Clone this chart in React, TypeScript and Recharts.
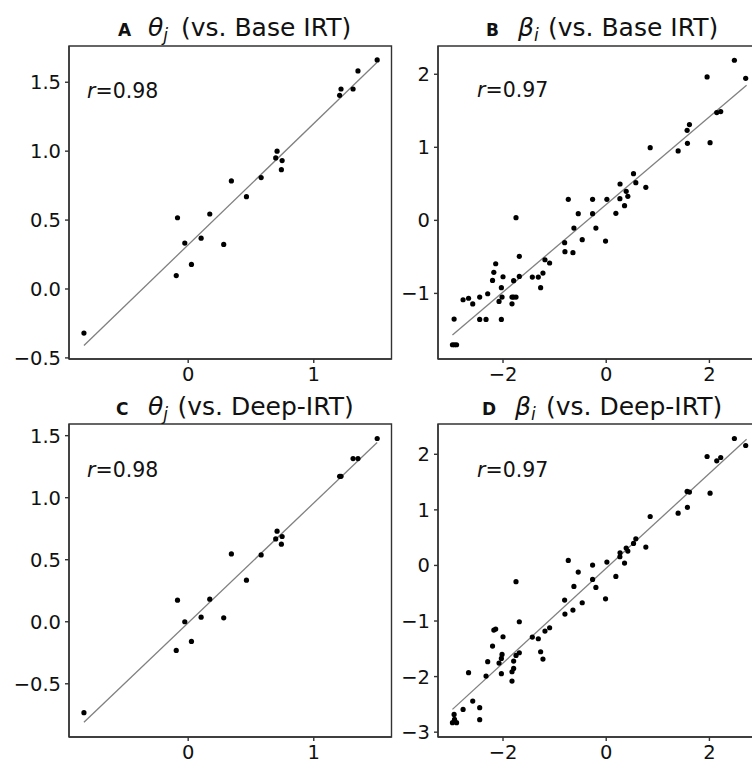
import { ScatterChart, Scatter, XAxis, YAxis, ReferenceLine, ReferenceArea } from 'recharts';

// ability estimates (theta): true values shared by panels A and C
const thetaTrue = [-0.83, -0.095, -0.085, -0.027, 0.026, 0.103, 0.172, 0.283, 0.344, 0.464, 0.581, 0.697, 0.708, 0.748, 0.742, 1.206, 1.217, 1.313, 1.352, 1.505];
const thetaBase = [-0.32, 0.097, 0.517, 0.333, 0.178, 0.369, 0.544, 0.323, 0.784, 0.67, 0.808, 0.951, 1.0, 0.932, 0.866, 1.405, 1.451, 1.451, 1.582, 1.662];
const thetaDeep = [-0.733, -0.231, 0.174, 0.0, -0.159, 0.037, 0.182, 0.032, 0.547, 0.335, 0.539, 0.668, 0.73, 0.687, 0.625, 1.172, 1.172, 1.315, 1.315, 1.477];

// item difficulty (beta): true values shared by panels B and D
const betaTrue = [
  -2.98, -2.94, -2.9, -2.948, -2.774, -2.668, -2.587, -2.452, -2.452, -2.329,
  -2.297, -2.203, -2.178, -2.142, -2.077, -2.032, -2.032, -2.019, -2.0, -1.826,
  -1.826, -1.794, -1.748, -1.794, -1.748, -1.684, -1.684, -1.432, -1.316, -1.271,
  -1.226, -1.187, -1.097, -0.806, -0.8, -0.735, -0.645, -0.626, -0.542, -0.465,
  -0.264, -0.264, -0.2, -0.013, 0.013, 0.187, 0.268, 0.265, 0.355, 0.387,
  0.419, 0.529, 0.574, 0.768, 0.852, 1.394, 1.568, 1.613, 1.574, 2.013,
  1.955, 2.142, 2.219, 2.484, 2.703,
];
const betaBase = [
  -1.703, -1.703, -1.703, -1.352, -1.087, -1.066, -1.144, -1.05, -1.356, -1.356,
  -1.005, -0.822, -0.712, -0.594, -1.11, -1.356, -0.922, -1.05, -0.772, -1.142,
  -1.05, -1.05, -1.05, -0.826, 0.037, -0.767, -0.493, -0.776, -0.776, -0.922,
  -0.721, -0.539, -0.584, -0.306, -0.429, 0.288, -0.443, -0.105, 0.091, -0.265,
  0.288, 0.091, -0.105, -0.283, 0.288, 0.096, 0.498, 0.297, 0.201, 0.397,
  0.329, 0.639, 0.516, 0.452, 0.995, 0.95, 1.233, 1.311, 1.055, 1.064,
  1.963, 1.475, 1.489, 2.192, 1.945,
];
const betaDeep = [
  -2.83, -2.77, -2.83, -2.68, -2.59, -1.93, -2.44, -2.56, -2.775, -1.99,
  -1.732, -1.451, -1.163, -1.145, -1.757, -1.948, -1.673, -1.601, -1.283, -2.08,
  -1.913, -1.853, -1.619, -1.72, -0.293, -1.571, -1.013, -1.289, -1.319, -1.553,
  -1.685, -1.181, -1.121, -0.624, -0.875, 0.09, -0.803, -0.378, -0.12, -0.671,
  0.006, -0.252, -0.396, -0.6, 0.06, -0.198, 0.228, 0.156, 0.042, 0.312,
  0.258, 0.396, 0.48, 0.33, 0.881, 0.941, 1.331, 1.32, 1.043, 1.301,
  1.96, 1.882, 1.942, 2.284, 2.158,
];

// regression line end points
const fitThetaX = [-0.83, 1.505];
const fitThetaBase = [-0.41, 1.645];
const fitThetaDeep = [-0.81, 1.445];
const fitBetaX = [-2.98, 2.72];
const fitBetaBase = [-1.57, 1.85];
const fitBetaDeep = [-2.59, 2.27];

const thetaXTicks = [0, 1];
const thetaYTicks = [-0.5, 0, 0.5, 1, 1.5];
const betaXTicks = [-2, 0, 2];
const betaBaseYTicks = [-1, 0, 1, 2];
const betaDeepYTicks = [-3, -2, -1, 0, 1, 2];

const PLOT_W = 322.5;
const PLOT_H = 313;
const Y_AXIS_W = 70;
const X_AXIS_H = 40;
const FONT = '"DejaVu Sans", sans-serif';

const fmt = (digits: number) => (v: number) => v.toFixed(digits).replace('-', '\u2212');

const Dot = (props: any) => <circle cx={props.cx} cy={props.cy} r={2.6} fill="#000" />;

function Panel({ left, top, xs, ys, xDomain, yDomain, xTicks, yTicks, yDigits, fitX, fitY }: any) {
  const data = xs.map((x: number, i: number) => ({ x, y: ys[i] }));
  return (
    <div style={{ position: 'absolute', left: left - Y_AXIS_W, top: top - 10 }}>
      <ScatterChart
        width={Y_AXIS_W + PLOT_W + 10}
        height={10 + PLOT_H + X_AXIS_H}
        margin={{ top: 10, right: 10, bottom: 0, left: 0 }}
      >
        <XAxis
          type="number"
          dataKey="x"
          domain={xDomain}
          ticks={xTicks}
          interval={0}
          allowDataOverflow
          height={X_AXIS_H}
          tickSize={4}
          tickMargin={4}
          tickFormatter={fmt(0)}
          stroke="#333"
          strokeWidth={1.4}
          tick={{ fill: '#111', fontSize: 19.5 }}
        />
        <YAxis
          type="number"
          dataKey="y"
          domain={yDomain}
          ticks={yTicks}
          interval={0}
          allowDataOverflow
          width={Y_AXIS_W}
          tickSize={4}
          tickMargin={4}
          tickFormatter={fmt(yDigits)}
          stroke="#333"
          strokeWidth={1.4}
          tick={{ fill: '#111', fontSize: 19.5 }}
        />
        <ReferenceArea
          x1={xDomain[0]}
          x2={xDomain[1]}
          y1={yDomain[0]}
          y2={yDomain[1]}
          fill="none"
          stroke="#333"
          strokeWidth={1.4}
        />
        <ReferenceLine
          segment={[{ x: fitX[0], y: fitY[0] }, { x: fitX[1], y: fitY[1] }]}
          stroke="#808080"
          strokeWidth={1.3}
        />
        <Scatter data={data} shape={Dot} isAnimationActive={false} />
      </ScatterChart>
    </div>
  );
}

function Title({ x, y, tag, symX, sym, sub, restX, rest }: any) {
  return (
    <text x={x} y={y} fontFamily={FONT} fill="#111">
      <tspan fontWeight="bold" fontSize={17}>{tag}</tspan>
      <tspan x={symX} fontStyle="italic" fontSize={25}>{sym}</tspan>
      <tspan fontStyle="italic" fontSize={17} dy={5}>{sub}</tspan>
      <tspan x={restX} dy={-5} fontSize={25}>{rest}</tspan>
    </text>
  );
}

function RLabel({ x, y, value }: any) {
  return (
    <text x={x} y={y} fontFamily={FONT} fontSize={20.5} fill="#111">
      <tspan fontStyle="italic">r</tspan>={value}
    </text>
  );
}

export default function App() {
  return (
    <div
      style={{
        position: 'absolute',
        left: 0,
        top: 0,
        width: 752,
        height: 765,
        overflow: 'hidden',
        background: '#fff',
        fontFamily: FONT,
      }}
    >
      <Panel left={68.5} top={45.7} xs={thetaTrue} ys={thetaBase} xDomain={[-0.949, 1.619]} yDomain={[-0.508, 1.763]}
        xTicks={thetaXTicks} yTicks={thetaYTicks} yDigits={1} fitX={fitThetaX} fitY={fitThetaBase} />
      <Panel left={437.7} top={45.7} xs={betaTrue} ys={betaBase} xDomain={[-3.26, 2.99]} yDomain={[-1.898, 2.387]}
        xTicks={betaXTicks} yTicks={betaBaseYTicks} yDigits={0} fitX={fitBetaX} fitY={fitBetaBase} />
      <Panel left={68.5} top={424.3} xs={thetaTrue} ys={thetaDeep} xDomain={[-0.949, 1.619]} yDomain={[-0.929, 1.594]}
        xTicks={thetaXTicks} yTicks={thetaYTicks} yDigits={1} fitX={fitThetaX} fitY={fitThetaDeep} />
      <Panel left={437.7} top={424.3} xs={betaTrue} ys={betaDeep} xDomain={[-3.26, 2.99]} yDomain={[-3.087, 2.545]}
        xTicks={betaXTicks} yTicks={betaDeepYTicks} yDigits={0} fitX={fitBetaX} fitY={fitBetaDeep} />
      <svg width={752} height={765} style={{ position: 'absolute', left: 0, top: 0, pointerEvents: 'none' }}>
        <Title x={118} y={36} tag="A" symX={148} sym="θ" sub="j" restX={181} rest="(vs. Base IRT)" />
        <Title x={486} y={36} tag="B" symX={518} sym="β" sub="i" restX={548} rest="(vs. Base IRT)" />
        <Title x={116} y={414.5} tag="C" symX={148} sym="θ" sub="j" restX={177.5} rest="(vs. Deep-IRT)" />
        <Title x={482} y={414.5} tag="D" symX={515} sym="β" sub="i" restX={546} rest="(vs. Deep-IRT)" />
        <RLabel x={87} y={97.5} value="0.98" />
        <RLabel x={477} y={97} value="0.97" />
        <RLabel x={87} y={477} value="0.98" />
        <RLabel x={477} y={477} value="0.97" />
      </svg>
    </div>
  );
}
